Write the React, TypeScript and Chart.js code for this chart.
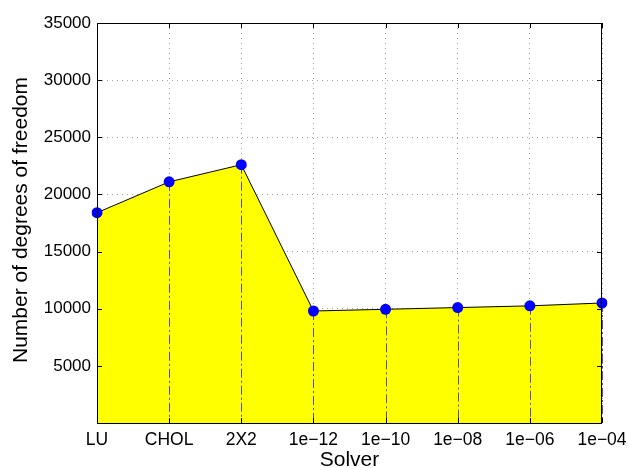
import React, { useEffect, useRef } from "react";
import { Chart, registerables } from "chart.js";

Chart.register(...registerables);

const categories = ["LU", "CHOL", "2X2", "1e\u221212", "1e\u221210", "1e\u221208", "1e\u221206", "1e\u221204"];
const dofValues = [18400, 21100, 22600, 9800, 9950, 10100, 10250, 10500];
const yTicks = [5000, 10000, 15000, 20000, 25000, 30000, 35000];
const xTitle = "Solver";
const yTitle = "Number of degrees of freedom";

const FONT = "'Liberation Sans', Arial, Helvetica, sans-serif";

const overlayPlugin = {
  id: "matlabOverlay",
  afterDatasetDraw(chart: any, args: any) {
    if (args.index !== 1) return;
    const ctx = chart.ctx;
    const meta = chart.getDatasetMeta(0);
    const bottom = chart.chartArea.bottom;
    ctx.save();
    ctx.strokeStyle = "#4a4ad6";
    ctx.lineWidth = 1;
    ctx.setLineDash([9, 3, 2, 3]);
    meta.data.forEach((pt: any) => {
      const x = Math.round(pt.x) + 0.5;
      ctx.beginPath();
      ctx.moveTo(x, pt.y);
      ctx.lineTo(x, bottom);
      ctx.stroke();
    });
    ctx.restore();
  },
  afterDraw(chart: any) {
    const ctx = chart.ctx;
    const { left, right, top, bottom } = chart.chartArea;
    ctx.save();
    ctx.strokeStyle = "#000";
    ctx.lineWidth = 1;
    ctx.setLineDash([]);
    ctx.strokeRect(left + 0.5, top + 0.5, right - left - 1, bottom - top);
    const ys = chart.scales.y;
    yTicks.forEach((v) => {
      const y = Math.round(ys.getPixelForValue(v)) + 0.5;
      ctx.beginPath();
      ctx.moveTo(left, y);
      ctx.lineTo(left + 5, y);
      ctx.moveTo(right, y);
      ctx.lineTo(right - 5, y);
      ctx.stroke();
    });
    const xs = chart.scales.x;
    categories.forEach((_, i) => {
      const x = Math.round(xs.getPixelForValue(i)) + 0.5;
      ctx.beginPath();
      ctx.moveTo(x, bottom);
      ctx.lineTo(x, bottom - 5);
      ctx.moveTo(x, top);
      ctx.lineTo(x, top + 5);
      ctx.stroke();
    });
    ctx.fillStyle = "#000";
    ctx.font = `21px ${FONT}`;
    ctx.textAlign = "center";
    ctx.textBaseline = "alphabetic";
    ctx.fillText(xTitle, (left + right) / 2, 466);
    ctx.save();
    ctx.translate(27, (top + bottom) / 2 - 3);
    ctx.rotate(-Math.PI / 2);
    ctx.fillText(yTitle, 0, 0);
    ctx.restore();
    ctx.restore();
  },
};

export default function App() {
  const ref = useRef<HTMLCanvasElement>(null);
  useEffect(() => {
    document.body.style.margin = "0";
    const chart = new Chart(ref.current as HTMLCanvasElement, {
      type: "line",
      data: {
        labels: categories,
        datasets: [
          {
            data: dofValues,
            borderColor: "#000",
            borderWidth: 1,
            fill: false,
            pointRadius: 5.5,
            pointBackgroundColor: "#0000ff",
            pointBorderColor: "#0000ff",
            pointBorderWidth: 0,
            tension: 0,
          },
          {
            data: dofValues,
            borderWidth: 0,
            borderColor: "rgba(0,0,0,0)",
            backgroundColor: "#ffff00",
            fill: "origin",
            pointRadius: 0,
            tension: 0,
          },
        ],
      },
      options: {
        animation: false,
        responsive: false,
        layout: { padding: { top: 23, right: 26, left: 0, bottom: 0 } },
        plugins: { legend: { display: false }, tooltip: { enabled: false } },
        scales: {
          x: {
            type: "category",
            offset: false,
            afterFit: (s: any) => {
              s.height = 45;
              s.paddingLeft = 0;
              s.paddingRight = 0;
            },
            grid: { color: "#a0a0a0", drawTicks: false, offset: false },
            border: { display: false, dash: [1, 4] },
            ticks: {
              color: "#000",
              font: { family: FONT, size: 17.5 },
              padding: 7,
              maxRotation: 0,
              autoSkip: false,
            },
          },
          y: {
            min: 0,
            max: 35000,
            afterFit: (s: any) => {
              s.width = 97;
              s.paddingTop = 0;
              s.paddingBottom = 0;
            },
            afterBuildTicks: (s: any) => {
              s.ticks = [0, ...yTicks].map((v) => ({ value: v }));
            },
            grid: { color: "#a0a0a0", drawTicks: false },
            border: { display: false, dash: [1, 4] },
            ticks: {
              color: "#000",
              font: { family: FONT, size: 17 },
              padding: 6,
              callback: (v: any) => (v === 0 ? "" : String(v)),
            },
          },
        },
      },
      plugins: [overlayPlugin],
    });
    return () => chart.destroy();
  }, []);
  return (
    <div style={{ width: 628, height: 468, background: "#fff" }}>
      <canvas ref={ref} width={628} height={468} />
    </div>
  );
}
